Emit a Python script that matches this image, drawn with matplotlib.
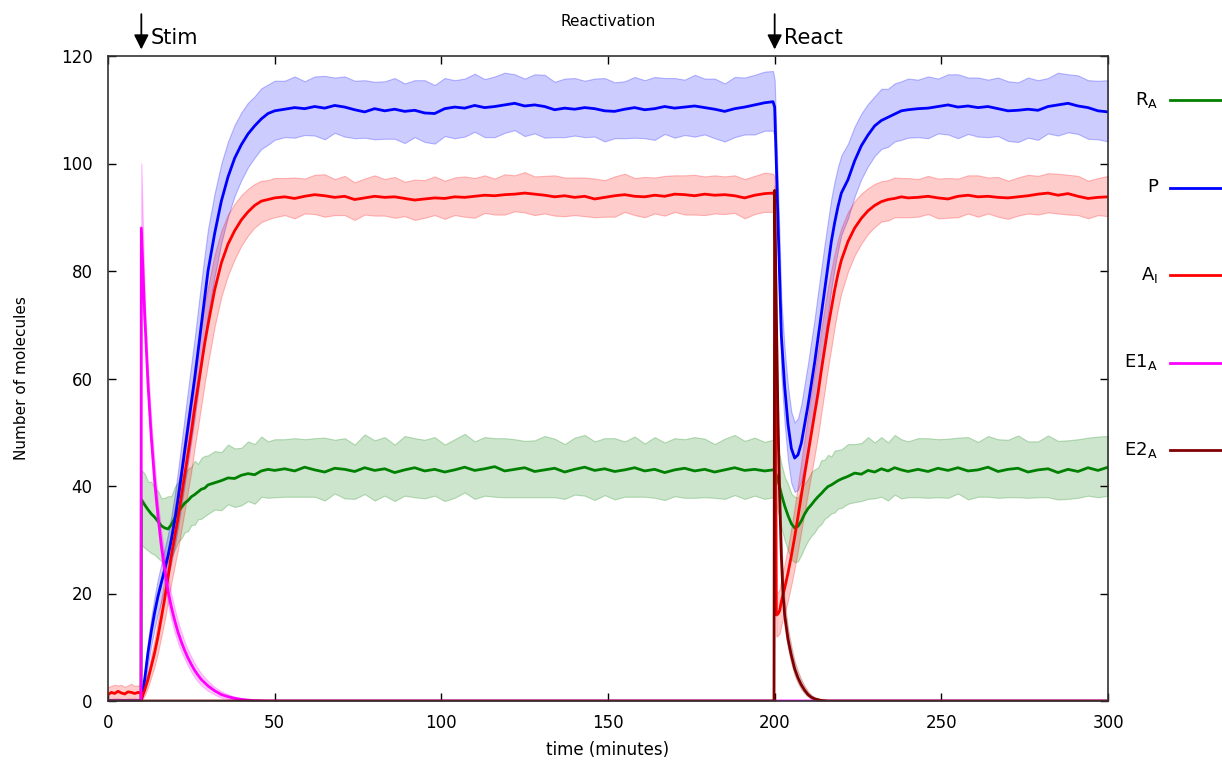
import numpy as np
import matplotlib.pyplot as plt
from matplotlib.lines import Line2D
from matplotlib.colors import to_rgba

plt.rcParams['font.family'] = ['DejaVu Sans']

# time grid (minutes): fine where the curves move fast, coarse on plateaus
t = np.concatenate([np.arange(0, 10, 1), [9.9],
                    np.arange(10, 31, 1), np.arange(32, 51, 2),
                    np.arange(53, 198, 3), [199.5, 200, 200.5, 201, 201.5],
                    np.arange(202, 221, 1), np.arange(222, 241, 2),
                    np.arange(243, 301, 3)])

# R_A
ra = [0, 0, 0, 0, 0, 0, 0, 0, 0, 0, 0,
      37.5, 36.5, 35.6, 34.8, 34.2, 33.4, 32.6, 32.2, 32.0, 32.8, 34.0, 35.2, 36.0, 36.8, 37.3, 38.0, 38.4, 38.9, 39.4, 39.6, 40.2,
      40.6, 41.0, 41.5, 41.4, 42.0, 42.3, 42.1, 42.8, 43.1, 42.9,
      43.2, 42.8, 43.5, 43.0, 42.6, 43.3, 43.1, 42.7, 43.4, 42.9,
      43.2, 42.5, 43.0, 43.4, 42.8, 43.1, 42.6, 43.0, 43.5, 42.9,
      43.2, 43.6, 42.8, 43.1, 43.4, 42.7, 43.0, 43.3, 42.6, 43.1,
      43.5, 42.9, 43.2, 42.7, 43.0, 43.4, 42.8, 43.1, 42.5, 43.0,
      43.3, 42.8, 43.1, 42.6, 43.0, 43.4, 42.9, 43.1, 42.8,
      43.0, 42.8, 42.0, 41.0, 39.8,
      38.5, 36.3, 34.5, 33.0, 32.2, 32.5, 33.5, 34.8, 35.8, 36.5, 37.3, 38.0, 38.6, 39.3, 39.9, 40.2, 40.6, 41.0, 41.3,
      41.8, 42.4, 42.2, 42.9, 42.6, 43.2, 42.8, 43.4, 43.0, 42.7,
      43.1, 42.7, 43.3, 42.9, 43.4, 42.8, 43.0, 43.5, 42.7, 43.1, 43.3, 42.6, 43.0, 43.2, 42.5, 43.1, 42.7, 43.4, 42.9, 43.5]
ra_up = [0, 0, 0, 0, 0, 0, 0, 0, 0, 0, 0,
         5.5, 5.8, 5.2, 6.0, 5.4, 5.7, 5.1, 5.6, 6.1, 5.3, 5.8, 5.5, 6.2, 5.4, 5.9, 5.6, 6.3, 5.2, 5.8, 6.0, 5.5,
         5.9, 5.3, 6.2, 5.6, 5.1, 6.0, 5.7, 6.4, 5.2, 5.8,
         5.5, 6.1, 5.2, 5.9, 6.4, 5.3, 5.8, 5.0, 6.2, 5.6,
         5.9, 5.2, 6.3, 5.5, 5.8, 6.0, 5.1, 5.7, 6.2, 5.4,
         5.9, 5.3, 6.1, 5.6, 5.0, 5.8, 6.3, 5.5, 5.2, 5.9,
         6.0, 5.4, 5.7, 6.2, 5.3, 5.8, 5.1, 6.0, 5.6, 5.9,
         5.4, 6.3, 5.7, 5.2, 5.8, 6.1, 5.5, 5.9, 5.4,
         5.6, 5.5, 5.8, 5.6, 5.9,
         5.7, 5.4, 5.9, 5.6, 5.8, 5.3, 6.0, 5.7, 5.5, 6.1, 5.8, 5.4, 6.2, 5.6, 5.9, 5.3, 6.0, 5.7, 5.5,
         6.0, 5.4, 5.8, 6.2, 5.5, 5.9, 5.3, 6.1, 5.7, 5.6,
         5.8, 6.2, 5.4, 5.9, 5.6, 6.3, 5.2, 5.8, 6.0, 5.5, 6.1, 5.7, 5.3, 6.2, 5.9, 5.4, 6.0, 5.6, 6.3, 5.8]
ra_dn = [0, 0, 0, 0, 0, 0, 0, 0, 0, 0, 0,
         8.5, 8.0, 7.6, 7.3, 7.0, 6.8, 6.6, 6.5, 6.2, 6.0, 5.9, 5.6, 5.8, 5.4, 5.7, 5.3, 5.6, 5.1, 5.5, 5.2, 5.4,
         5.0, 5.5, 4.9, 5.3, 5.6, 5.1, 5.4, 4.8, 5.3, 5.0,
         5.2, 4.8, 5.5, 5.0, 5.3, 4.7, 5.4, 5.1, 4.9, 5.6,
         5.0, 5.3, 4.8, 5.5, 5.1, 4.9, 5.4, 5.2, 4.7, 5.3,
         5.0, 5.6, 4.9, 5.2, 5.5, 4.8, 5.1, 5.4, 5.0, 4.7,
         5.3, 5.5, 4.9, 5.2, 5.0, 5.4, 4.8, 5.3, 5.1, 4.9,
         5.5, 5.0, 5.2, 4.8, 5.4, 5.1, 5.3, 4.9, 5.2,
         5.1, 5.3, 5.5, 5.8, 6.0,
         6.2, 6.4, 6.5, 6.6, 6.4, 6.5, 6.3, 6.2, 6.0, 5.8, 5.9, 5.6, 5.7, 5.4, 5.6, 5.3, 5.5, 5.2, 5.4,
         5.1, 5.4, 5.0, 5.3, 4.9, 5.2, 5.5, 5.0, 5.3, 4.8,
         5.2, 4.9, 5.4, 5.1, 4.8, 5.3, 5.0, 5.5, 4.9, 5.2, 5.4, 4.8, 5.1, 5.3, 5.0, 5.5, 4.9, 5.2, 5.0, 5.3]

# P
p = [0, 0, 0, 0, 0, 0, 0, 0, 0, 0, 0,
     0, 4, 9, 13, 16.5, 19.5, 22, 24.5, 27, 30, 33.5, 37.5, 42, 46.5, 51, 55.5, 60, 65, 70, 75, 80,
     87, 93, 97.5, 101, 103.5, 105.5, 107, 108.3, 109.3, 109.8,
     110.1, 110.4, 110.2, 110.6, 110.3, 110.8, 110.5, 110.0, 109.6, 110.2,
     109.8, 110.1, 109.7, 109.9, 109.4, 109.3, 110.2, 110.5, 110.3, 110.8,
     110.4, 110.6, 110.9, 111.2, 110.7, 110.9, 110.6, 110.0, 110.3, 110.1,
     110.4, 110.2, 109.8, 109.7, 110.1, 110.4, 110.0, 110.2, 110.6, 110.3,
     110.5, 110.7, 110.4, 110.1, 109.7, 110.2, 110.5, 110.9, 111.3,
     111.5, 110.5, 100.0, 90.0, 79.0,
     68, 58.5, 51.5, 47, 45.2, 45.8, 48, 51.5, 55, 59, 63, 67.5, 72, 76.5, 81, 85.5, 89, 92, 94.5,
     97, 100.5, 103.3, 105.3, 107, 108, 108.6, 109.2, 109.8, 110,
     110.2, 110.3, 110.6, 110.9, 110.5, 110.7, 110.4, 110.6, 110.2, 109.8, 109.9, 110.1, 109.9, 110.6, 110.9, 111.2, 110.7, 110.4, 109.8, 109.6]
p_up = [0, 0, 0, 0, 0, 0, 0, 0, 0, 0, 0,
        0.5, 1.5, 2.2, 2.6, 3.0, 3.3, 3.5, 3.8, 4.0, 4.4, 4.8, 5.3, 5.8, 6.3, 6.8, 7.2, 7.5, 7.8, 8.0, 8.0, 7.8,
        7.5, 7.0, 6.6, 6.2, 6.0, 5.8, 5.5, 5.7, 5.4, 5.6,
        5.3, 5.8, 5.1, 5.6, 6.0, 5.2, 5.7, 5.4, 5.9, 5.0,
        5.5, 5.8, 5.2, 5.6, 6.1, 5.3, 5.7, 5.0, 5.5, 5.9,
        5.3, 5.6, 6.0, 5.4, 5.1, 5.7, 5.9, 5.2, 5.5, 5.8,
        5.0, 5.6, 6.1, 5.4, 5.2, 5.7, 5.5, 5.9, 5.3, 5.6,
        5.1, 5.8, 5.4, 5.7, 5.2, 5.9, 5.5, 5.6, 5.8,
        5.7, 5.0, 5.5, 6.0, 6.5,
        6.8, 7.0, 7.0, 6.8, 6.6, 6.8, 7.2, 7.5, 7.8, 8.0, 8.2, 8.4, 8.5, 8.5, 8.3, 8.0, 7.7, 7.4, 7.0,
        6.7, 6.4, 6.0, 5.8, 5.5, 5.9, 5.3, 5.7, 5.5, 5.8,
        5.4, 5.9, 5.2, 5.7, 6.1, 5.3, 5.6, 5.0, 5.8, 5.5, 5.2, 5.9, 5.6, 5.3, 6.0, 5.4, 5.7, 5.1, 5.6, 5.9]
p_dn = [0, 0, 0, 0, 0, 0, 0, 0, 0, 0, 0,
        0, 1.5, 2.2, 2.6, 3.0, 3.2, 3.5, 3.7, 4.0, 4.3, 4.7, 5.2, 5.7, 6.2, 6.7, 7.1, 7.4, 7.7, 7.9, 8.0, 8.1,
        8.0, 7.8, 7.4, 7.0, 6.6, 6.2, 5.9, 5.6, 5.8, 5.4,
        5.2, 5.6, 4.9, 5.4, 5.8, 5.1, 5.5, 5.3, 4.8, 5.7,
        5.2, 5.5, 5.9, 5.0, 5.4, 5.6, 5.1, 5.8, 5.3, 4.9,
        5.5, 5.7, 5.2, 5.0, 5.6, 5.3, 5.8, 5.1, 5.4, 4.9,
        5.5, 5.2, 5.7, 5.0, 5.4, 5.6, 5.3, 5.8, 5.1, 5.5,
        5.2, 5.7, 5.0, 5.4, 5.6, 5.3, 5.1, 5.5, 5.2,
        5.4, 5.6, 6.5, 7.0, 7.2,
        7.2, 7.0, 6.8, 6.5, 6.3, 6.5, 7.0, 7.5, 8.0, 8.5, 8.8, 9.0, 9.2, 9.2, 9.0, 8.8, 8.5, 8.2, 7.8,
        7.2, 6.6, 6.2, 5.8, 5.6, 5.3, 5.5, 5.1, 5.4, 5.2,
        5.3, 5.6, 5.0, 5.5, 5.8, 5.2, 5.4, 5.7, 5.1, 5.6, 5.9, 5.3, 5.5, 5.0, 5.7, 5.4, 5.2, 5.8, 5.3, 5.5]

# A_I
ai = [1.2, 1.6, 1.4, 1.8, 1.5, 1.3, 1.7, 1.6, 1.4, 1.6, 1.5,
      0.3, 2, 4, 6.5, 9, 12, 15.5, 19, 23, 27, 30.5, 34, 38, 42, 46, 50, 54.5, 58.5, 62.5, 66.5, 70,
      76.5, 81.5, 85, 87.5, 89.5, 91, 92.2, 93, 93.3, 93.6,
      93.8, 93.5, 93.9, 94.2, 94.0, 93.7, 93.9, 93.3, 93.6, 93.9,
      93.7, 93.8, 93.5, 93.2, 93.4, 93.6, 93.5, 93.8, 93.7, 93.9,
      94.1, 94.0, 94.2, 94.3, 94.5, 94.3, 94.1, 93.8, 94.0, 93.7,
      93.9, 93.4, 93.7, 94.0, 94.2, 93.9, 93.8, 94.1, 93.9, 94.3,
      94.2, 94.0, 94.3, 94.1, 94.2, 94.0, 93.6, 94.1, 94.4,
      94.5, 94.0, 16.0, 16.2, 16.8,
      18.5, 21, 23.8, 27, 30.5, 34.3, 38.3, 42.2, 46, 49.8, 53.5, 57.2, 61.5, 65.5, 69.5, 73, 76.5, 79.5, 82,
      85.5, 88.0, 89.8, 91.2, 92.2, 92.9, 93.3, 93.5, 93.8, 93.6,
      93.7, 93.9, 93.6, 93.4, 93.9, 94.1, 93.8, 93.9, 93.7, 93.6, 93.8, 94.0, 94.3, 94.5, 94.1, 94.4, 93.9, 93.5, 93.7, 93.8]
ai_up = [1.4, 1.2, 1.6, 1.1, 1.5, 1.3, 1.2, 1.6, 1.4, 1.3, 1.5,
         0.5, 1.0, 1.5, 2.0, 2.5, 3.0, 3.5, 4.0, 4.5, 5.0, 5.5, 6.0, 6.5, 7.0, 7.3, 7.5, 7.6, 7.6, 7.5, 7.3, 7.0,
         6.6, 6.0, 5.5, 5.0, 4.6, 4.3, 4.0, 3.8, 3.6, 3.7,
         3.5, 3.9, 3.3, 3.7, 4.0, 3.4, 3.8, 3.2, 3.6, 3.9,
         3.4, 3.7, 3.1, 3.8, 3.5, 4.0, 3.3, 3.6, 3.9, 3.4,
         3.7, 3.2, 3.8, 3.5, 3.9, 3.3, 3.6, 4.0, 3.4, 3.7,
         3.5, 3.8, 3.2, 3.6, 3.9, 3.4, 3.7, 3.3, 3.8, 3.5,
         3.6, 3.9, 3.3, 3.7, 3.4, 3.8, 3.5, 3.6, 3.9,
         3.6, 3.5, 4.0, 4.0, 4.0,
         4.2, 4.5, 4.8, 5.2, 5.6, 6.0, 6.4, 6.8, 7.2, 7.5, 7.7, 7.8, 7.8, 7.7, 7.5, 7.2, 6.8, 6.4, 6.0,
         5.5, 5.0, 4.6, 4.2, 4.0, 3.8, 3.6, 3.9, 3.5, 3.7,
         3.4, 3.8, 3.6, 3.9, 3.3, 3.7, 4.0, 3.5, 3.8, 3.2, 3.6, 3.9, 3.4, 3.7, 4.0, 3.5, 3.8, 3.3, 3.6, 3.9]
ai_dn = [1.0, 1.2, 0.9, 1.3, 1.1, 1.0, 1.2, 1.1, 0.9, 1.2, 1.1,
         0.3, 1.0, 1.5, 2.0, 2.5, 3.0, 3.5, 4.0, 4.5, 5.0, 5.4, 5.8, 6.2, 6.6, 6.9, 7.2, 7.4, 7.5, 7.5, 7.4, 7.2,
         6.8, 6.3, 5.8, 5.3, 4.8, 4.4, 4.1, 3.9, 3.7, 3.6,
         3.4, 3.7, 3.2, 3.6, 3.9, 3.3, 3.5, 3.8, 3.1, 3.6,
         3.4, 3.9, 3.3, 3.7, 3.5, 3.2, 3.8, 3.4, 3.6, 4.0,
         3.3, 3.5, 3.7, 3.2, 3.6, 3.9, 3.4, 3.5, 3.8, 3.3,
         3.7, 3.4, 3.6, 3.9, 3.2, 3.5, 3.8, 3.4, 3.6, 3.3,
         3.7, 3.5, 3.9, 3.4, 3.6, 3.2, 3.8, 3.5, 3.4,
         3.5, 3.6, 4.0, 4.0, 4.2,
         4.4, 4.7, 5.0, 5.4, 5.8, 6.2, 6.6, 7.0, 7.3, 7.6, 7.8, 7.9, 7.9, 7.8, 7.6, 7.3, 6.9, 6.5, 6.1,
         5.6, 5.1, 4.7, 4.3, 4.0, 3.7, 3.9, 3.5, 3.8, 3.6,
         3.6, 3.3, 3.8, 3.5, 3.9, 3.4, 3.7, 3.2, 3.6, 3.9, 3.5, 3.3, 3.8, 3.6, 3.4, 3.9, 3.5, 3.7, 3.3, 3.6]

# E1_A (stimulus pulse)
t_e1 = [0, 9.9, 10, 11, 12, 13, 14, 15, 16, 17, 18, 19, 20, 21, 22, 23, 24, 25, 26, 27, 28,
        30, 32, 34, 36, 38, 40, 43, 48, 300]
e1 = [0, 0, 88, 72, 59, 49, 41, 34.5, 29, 24.5, 20.5, 17.5, 15, 12.8, 11, 9.4, 8, 6.8, 5.7, 4.8, 4,
      2.8, 1.9, 1.2, 0.8, 0.5, 0.3, 0.1, 0, 0]
e1_hi = [0, 0, 100, 75, 62, 52, 44, 37, 31.5, 27, 23, 19.8, 17.2, 14.8, 12.8, 11, 9.5, 8.2, 7, 6, 5.1,
         3.7, 2.6, 1.8, 1.2, 0.8, 0.5, 0.2, 0, 0]
e1_lo = [0, 0, 76, 69, 56, 46, 38, 32, 26.5, 22, 18, 15.2, 12.8, 10.8, 9.2, 7.8, 6.5, 5.4, 4.4, 3.6, 2.9,
         1.9, 1.2, 0.6, 0.4, 0.2, 0.1, 0, 0, 0]

# E2_A (reactivation pulse)
t_e2 = [0, 199.8, 200, 200.5, 201, 201.5, 202, 202.5, 203, 204, 205, 206, 207, 208, 209, 210, 211, 212, 214, 216, 300]
e2 = [0, 0, 95, 72, 52, 38, 27, 20, 16, 11.5, 8.5, 6, 4.3, 3, 2, 1.2, 0.7, 0.4, 0.1, 0, 0]
e2_hi = [0, 0, 96, 75, 55, 41, 30, 23, 18.5, 13.5, 10.2, 7.4, 5.5, 4, 2.8, 1.8, 1.1, 0.7, 0.2, 0, 0]
e2_lo = [0, 0, 90, 69, 49, 35, 24.5, 17.5, 13.8, 9.8, 7, 4.8, 3.3, 2.2, 1.4, 0.8, 0.4, 0.2, 0, 0, 0]

labels = [r'R$_\mathrm{A}$', 'P', r'A$_\mathrm{I}$', r'E1$_\mathrm{A}$', r'E2$_\mathrm{A}$']
colors = ['#008000', '#0000ff', '#ff0000', '#ff00ff', '#800000']

series = [
    (t, np.array(ra), np.array(ra) + np.array(ra_up), np.array(ra) - np.array(ra_dn)),
    (t, np.array(p), np.array(p) + np.array(p_up), np.array(p) - np.array(p_dn)),
    (t, np.array(ai), np.array(ai) + np.array(ai_up), np.array(ai) - np.array(ai_dn)),
    (t_e1, e1, e1_hi, e1_lo),
    (t_e2, e2, e2_hi, e2_lo),
]

fig = plt.figure(figsize=(12.22, 7.65), dpi=100)
ax = fig.add_axes([108 / 1222, 64 / 765, 1000 / 1222, 645 / 765])

for (x, m, hi, lo), c in zip(series, colors):
    ax.fill_between(x, lo, hi, facecolor=to_rgba(c, 0.2), edgecolor=to_rgba(c, 0.25), lw=0.8)
    ax.plot(x, m, color=c, lw=2.0)

ax.set_xlim(0, 300)
ax.set_ylim(0, 120)
ax.set_xticks(np.arange(0, 301, 50))
ax.set_yticks(np.arange(0, 121, 20))
ax.tick_params(direction='in', length=6, width=1, top=True, right=True, labelsize=12)
ax.tick_params(axis='y', pad=11)
ax.tick_params(axis='x', pad=9)
for s in ax.spines.values():
    s.set_color('#333333')
    s.set_linewidth(1.2)

ax.set_xlabel('time (minutes)', fontsize=12)
ax.set_ylabel('Number of molecules', fontsize=11)
ax.xaxis.set_label_coords(0.5, -0.062)
ax.yaxis.set_label_coords(-0.079, 0.5)

ax.text(0.5, 1.054, 'Reactivation', transform=ax.transAxes, ha='center', va='center', fontsize=11)

# stimulus markers
for tx, name in [(10, 'Stim'), (200, 'React')]:
    ax.annotate('', xy=(tx, 120.7), xytext=(tx, 128.3), annotation_clip=False,
                arrowprops=dict(arrowstyle='-|>', color='black', lw=1.3, mutation_scale=22))
    ax.text(tx + 2.8, 123.4, name, ha='left', va='center', fontsize=15, clip_on=False)

# legend on the right, text right-aligned next to a line sample
for i, (lab, c) in enumerate(zip(labels, colors)):
    y = (765 - (100 + 87.5 * i)) / 765
    fig.text(1158 / 1222, y, lab, ha='right', va='center', fontsize=13)
    fig.add_artist(Line2D([1170 / 1222, 1.0], [y, y], color=c, lw=2.0, transform=fig.transFigure))

fig.savefig('out.png', dpi=100)
